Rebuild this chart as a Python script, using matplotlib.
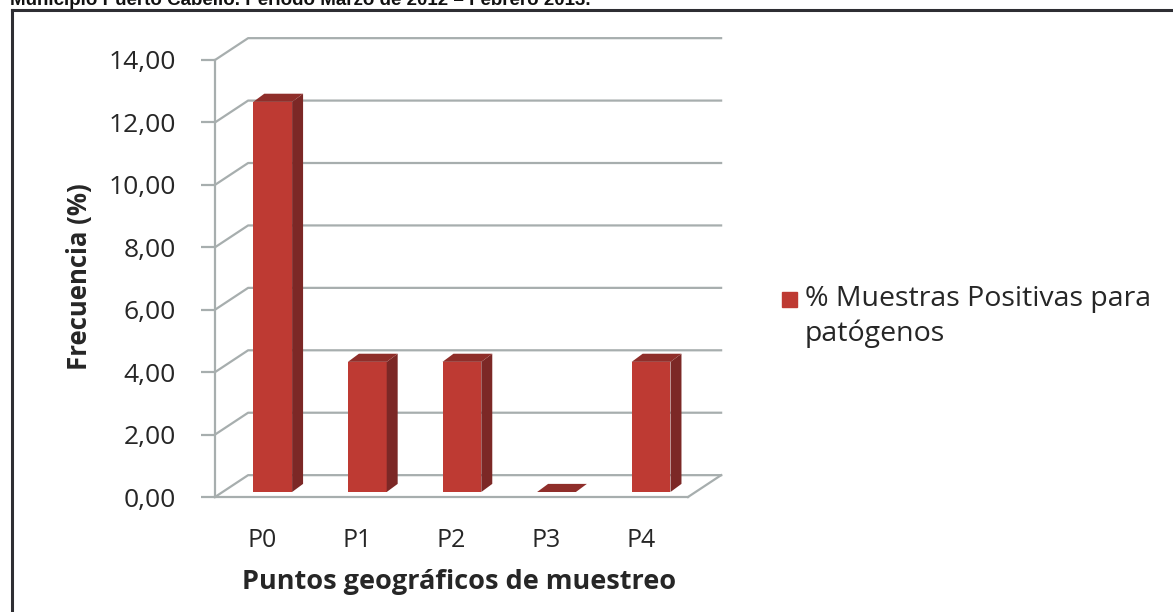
import matplotlib
matplotlib.use("Agg")
import matplotlib.pyplot as plt
from matplotlib.patches import Polygon, Rectangle
from matplotlib.lines import Line2D

# data
puntos = ["P0", "P1", "P2", "P3", "P4"]
frecuencia = [12.50, 4.17, 4.17, 0.00, 4.17]
yticks = [0, 2, 4, 6, 8, 10, 12, 14]
serie = "% Muestras Positivas para\npatógenos"
titulo = "Municipio Puerto Cabello. Período Marzo de 2012 – Febrero 2013."

W, H = 1173, 612
front = "#BE3A33"
side = "#7C2826"
top = "#8F2E2A"
grid = "#A7AEAE"
txt = "#262626"

plt.rcParams["font.family"] = ["Open Sans", "DejaVu Sans"]


def fx(px):
    return px / W


def fy(py):
    return 1 - py / H


fig = plt.figure(figsize=(W / 100, H / 100), dpi=100)

# front plane of the 3d box
ax = fig.add_axes([fx(215), fy(497), fx(688) - fx(215), fy(60) - fy(497)])
ax.set_xlim(-0.5, 4.5)
ax.set_ylim(0, 14)
ax.patch.set_alpha(0)

# depth of walls and bars (data units)
DX, DY = 0.35, 0.70
OX, OY = 0.11, 0.16
BW = 0.41
BDX, BDY = 0.116, 0.26

# back wall / side wall gridlines
x0, x1 = ax.get_xlim()
for t in yticks:
    ax.plot([x0, x0 + DX, x1 + DX], [t, t + DY, t + DY], color=grid,
            lw=1.6, clip_on=False, zorder=1)
ax.plot([x1, x1 + DX], [0, DY], color=grid, lw=1.6, clip_on=False, zorder=1)

# bars: front faces through ax.bar, side and top faces as polygons
xs = [i + OX for i in range(len(puntos))]
ax.bar(xs, frecuencia, width=BW, bottom=OY, color=front, zorder=3,
       edgecolor="none")
for x, v in zip(xs, frecuencia):
    l, r = x - BW / 2, x + BW / 2
    ytop = v + OY
    ax.add_patch(Polygon([(r, OY), (r + BDX, OY + BDY), (r + BDX, ytop + BDY),
                          (r, ytop)], closed=True, color=side, zorder=3,
                         lw=0))
    ax.add_patch(Polygon([(l, ytop), (r, ytop), (r + BDX, ytop + BDY),
                          (l + BDX, ytop + BDY)], closed=True, color=top,
                         zorder=4, lw=0))

for s in ["top", "right"]:
    ax.spines[s].set_visible(False)
for s in ["left", "bottom"]:
    ax.spines[s].set_color(grid)
    ax.spines[s].set_linewidth(1.6)

ax.set_yticks(yticks)
ax.set_yticklabels([f"{t:.2f}".replace(".", ",") for t in yticks])
ax.tick_params(axis="y", length=10, width=1.6, color=grid, pad=18,
               labelsize=19, labelcolor=txt)
ax.set_xticks(range(len(puntos)))
ax.set_xticklabels(puntos)
ax.tick_params(axis="x", length=0, pad=22, labelsize=18, labelcolor=txt)

fig.text(fx(80), fy(277), "Frecuencia (%)", rotation=90, ha="center",
         va="center", fontsize=18.5, fontweight="bold", color=txt)
fig.text(fx(459), fy(582), "Puntos geográficos de muestreo", ha="center",
         va="center", fontsize=19.5, fontweight="bold", color=txt)

# legend
fig.patches.append(Rectangle((fx(782), fy(307)), fx(15), 15 / H,
                             transform=fig.transFigure, color=front))
fig.text(fx(805), fy(285), serie, ha="left", va="top", fontsize=20.5,
         color=txt, linespacing=1.3)

# outer frame and clipped caption of the source figure
fig.lines.append(Line2D([fx(12), 1], [fy(10), fy(10)], color="#2e2e33",
                        lw=2.2, transform=fig.transFigure))
fig.lines.append(Line2D([fx(12), fx(12)], [fy(10), 0], color="#2e2e33",
                        lw=2.2, transform=fig.transFigure))
fig.text(fx(10), fy(5), titulo, ha="left", va="baseline", fontsize=13.5,
         fontweight="bold", color="#111111", family="Liberation Sans")

fig.savefig("out.png", dpi=100)
